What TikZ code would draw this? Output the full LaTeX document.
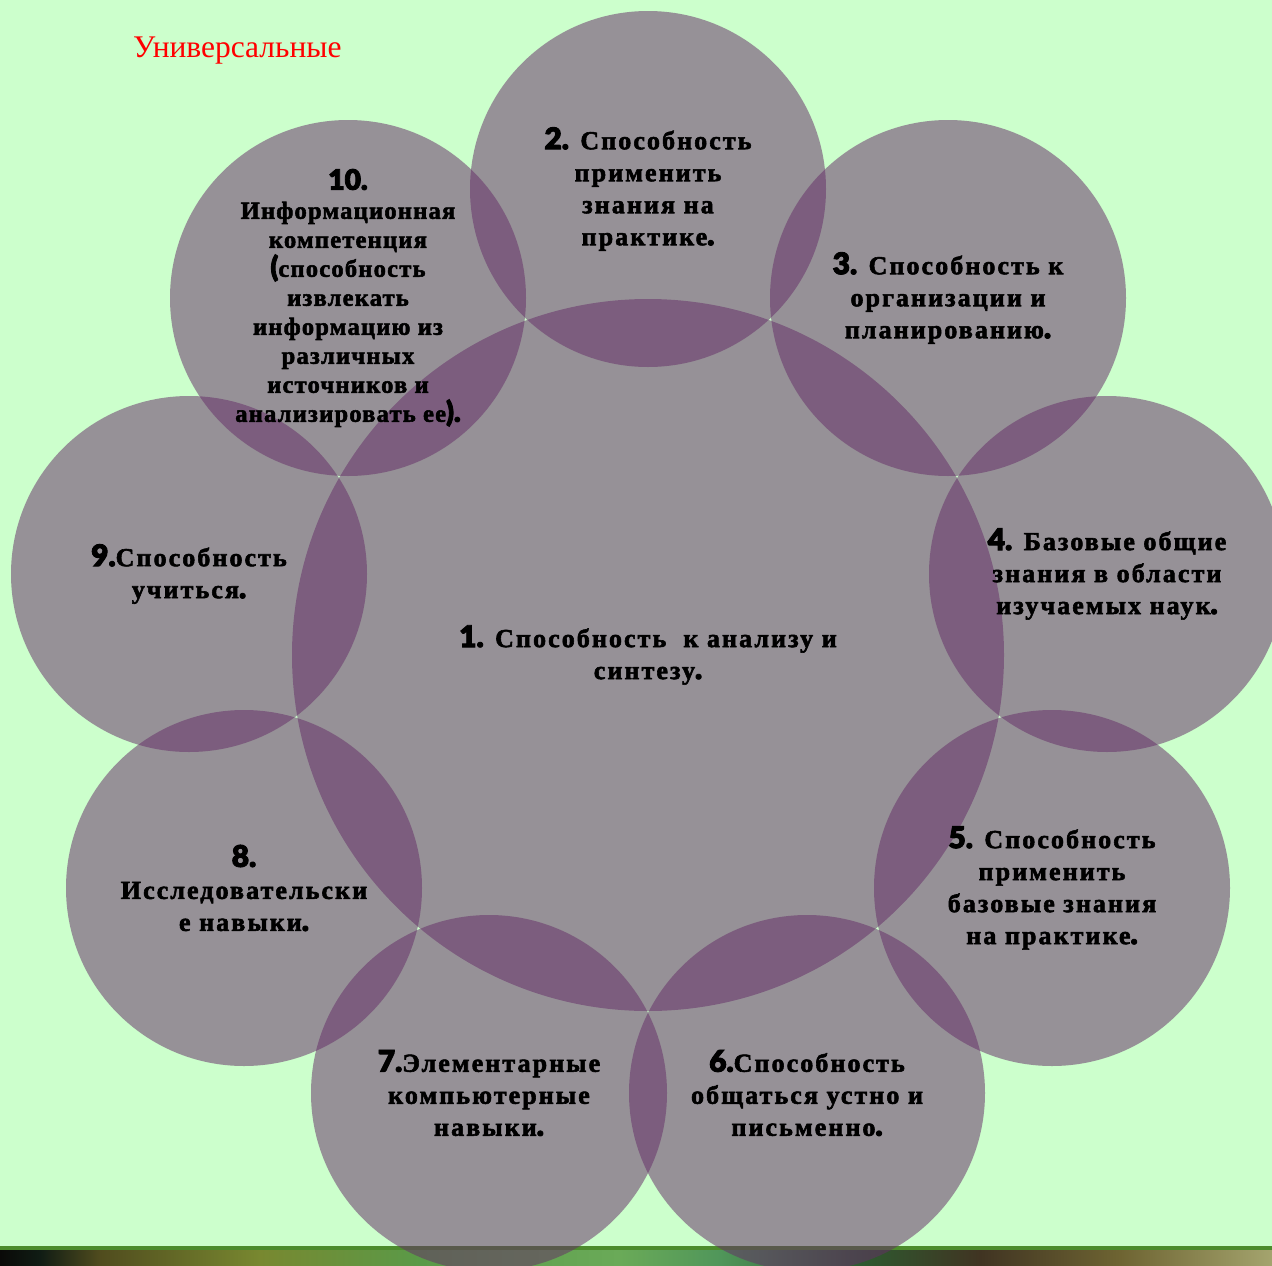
\documentclass[tikz,border=0pt]{standalone}
\usepackage{fontspec}
\setmainfont{Liberation Serif}
\newfontfamily\lblfont[LetterSpace=8,FakeBold=2.2]{Liberation Serif Bold}
\newfontfamily\smfont[LetterSpace=5,FakeBold=2.2]{Liberation Serif Bold}
\IfFontExistsTF{Lato Black}{\newfontfamily\numfont[Scale=1.15,FakeBold=3]{Lato Black}}{\newfontfamily\numfont[FakeBold=3.5]{DejaVu Sans Bold}}
\newcommand{\nm}[1]{{\numfont #1}}
\definecolor{bgg}{RGB}{204,255,204}
\definecolor{circ}{RGB}{102,46,104}
\definecolor{edgeg}{RGB}{76,140,44}
\tikzset{
  ring/.style={circle, draw=none, fill=circ, fill opacity=0.52, inner sep=0pt, minimum size=356pt},
  hub/.style={circle, draw=none, fill=circ, fill opacity=0.52, inner sep=0pt, minimum size=712pt},
  lbl/.style={align=center, inner sep=0pt, text=black, font=\lblfont\fontsize{26}{32}\selectfont},
  lblsmall/.style={align=center, inner sep=0pt, text=black, font=\smfont\fontsize{24.5}{29}\selectfont},
  seg/.style={draw=none}
}
\begin{document}
\begin{tikzpicture}[x=1pt,y=-1pt]
\useasboundingbox (0,0) rectangle (1272,1266);
\fill[bgg] (0,0) rectangle (1272,1266);
% bottom strip
\fill[edgeg] (0,1246) rectangle (1272,1250);
\shade[seg,left color={rgb,255:red,10;green,10;blue,8},right color={rgb,255:red,16;green,28;blue,20}] (0,1250) rectangle (40,1266);
\shade[seg,left color={rgb,255:red,16;green,28;blue,20},right color={rgb,255:red,80;green,76;blue,30}] (40,1250) rectangle (100,1266);
\shade[seg,left color={rgb,255:red,80;green,76;blue,30},right color={rgb,255:red,120;green,136;blue,48}] (100,1250) rectangle (260,1266);
\shade[seg,left color={rgb,255:red,120;green,136;blue,48},right color={rgb,255:red,90;green,154;blue,72}] (260,1250) rectangle (420,1266);
\shade[seg,left color={rgb,255:red,90;green,154;blue,72},right color={rgb,255:red,106;green,170;blue,88}] (420,1250) rectangle (620,1266);
\shade[seg,left color={rgb,255:red,106;green,170;blue,88},right color={rgb,255:red,80;green,150;blue,90}] (620,1250) rectangle (720,1266);
\shade[seg,left color={rgb,255:red,80;green,150;blue,90},right color={rgb,255:red,46;green,90;blue,48}] (720,1250) rectangle (860,1266);
\shade[seg,left color={rgb,255:red,46;green,90;blue,48},right color={rgb,255:red,64;green,52;blue,34}] (860,1250) rectangle (980,1266);
\shade[seg,left color={rgb,255:red,64;green,52;blue,34},right color={rgb,255:red,110;green,100;blue,50}] (980,1250) rectangle (1120,1266);
\shade[seg,left color={rgb,255:red,110;green,100;blue,50},right color={rgb,255:red,164;green,164;blue,110}] (1120,1250) rectangle (1272,1266);
% circles
\node[hub]  (c1)  at (648,655) {};
\node[ring] (c2)  at (648,189) {};
\node[ring] (c3)  at (948,298) {};
\node[ring] (c4)  at (1107,574) {};
\node[ring] (c5)  at (1052,888) {};
\node[ring] (c6)  at (807,1093) {};
\node[ring] (c7)  at (489,1093) {};
\node[ring] (c8)  at (244,888) {};
\node[ring] (c9)  at (189,574) {};
\node[ring] (c10) at (348,298) {};
% labels
\node[lbl] (t1) at (c1) {\nm{1.} Способность\ \ к анализу и\\синтезу\nm{.}};
\node[lbl] (t2) at (c2) {\nm{2.} Способность\\применить\\знания на\\практике\nm{.}};
\node[lbl] (t3) at (c3) {\nm{3.} Способность к\\организации и\\планированию\nm{.}};
\node[lbl] (t4) at (c4) {\nm{4.} Базовые общие\\знания в области\\изучаемых наук\nm{.}};
\node[lbl] (t5) at (c5) {\nm{5.} Способность\\применить\\базовые знания\\на практике\nm{.}};
\node[lbl] (t6) at (c6) {\nm{6.}Способность\\общаться устно и\\письменно\nm{.}};
\node[lbl] (t7) at (c7) {\nm{7.}Элементарные\\компьютерные\\навыки\nm{.}};
\node[lbl] (t8) at (c8) {\nm{8.}\\Исследовательски\\е навыки\nm{.}};
\node[lbl] (t9) at (c9) {\nm{9.}Способность\\учиться\nm{.}};
\node[lblsmall] (t10) at (c10) {\nm{10.}\\Информационная\\компетенция\\\nm{(}способность\\извлекать\\информацию из\\различных\\источников и\\анализировать ее\nm{).}};
% title
\node[anchor=base west, inner sep=0pt, text={rgb,255:red,255;green,0;blue,0}, font=\fontsize{31.5}{34}\selectfont] (title) at (133,57) {Универсальные};
\end{tikzpicture}
\end{document}
